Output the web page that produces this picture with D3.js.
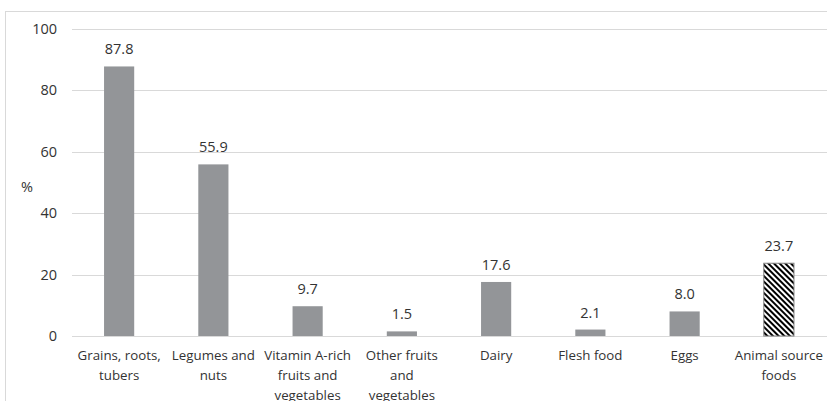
<!DOCTYPE html>
<html><head><meta charset="utf-8">
<script src="https://cdn.jsdelivr.net/npm/d3@7"></script>
<style>body{margin:0;background:#fff;} svg{display:block;}</style>
</head><body>
<svg id="c" width="827" height="401"></svg>
<script>
const categories = [["Grains, roots,","tubers"],["Legumes and","nuts"],["Vitamin A-rich","fruits and","vegetables"],["Other fruits","and","vegetables"],["Dairy"],["Flesh food"],["Eggs"],["Animal source","foods"]];
const values = [87.8, 55.9, 9.7, 1.5, 17.6, 2.1, 8.0, 23.7];
const hatched = [false,false,false,false,false,false,false,true];
const yTicks = [0,20,40,60,80,100];

const svg = d3.select("#c");
const font = "'Open Sans', sans-serif";
const txt = "#333333";
const defs = svg.append("defs");
const pat = defs.append("pattern").attr("id","hatch").attr("patternUnits","userSpaceOnUse")
  .attr("width",4).attr("height",4).attr("patternTransform","rotate(-45)");
pat.append("rect").attr("width",4).attr("height",4).attr("fill","#fff");
pat.append("rect").attr("width",2).attr("height",4).attr("fill","#000");

svg.append("rect").attr("x",5.5).attr("y",11.5).attr("width",830).attr("height",400)
  .attr("fill","none").attr("stroke","#d9d9d9");

const x = d3.scaleBand().domain(d3.range(categories.length)).range([72,826]).paddingInner(0.68).paddingOuter(0.34);
const y = d3.scaleLinear().domain([0,100]).range([336,29]);

svg.append("g").selectAll("line").data(yTicks).join("line")
  .attr("x1",72).attr("x2",827).attr("y1",d=>Math.round(y(d))+0.5).attr("y2",d=>Math.round(y(d))+0.5)
  .attr("stroke","#d9d9d9").attr("stroke-width",1);

svg.append("g").selectAll("text").data(yTicks).join("text")
  .attr("x",57).attr("y",d=>y(d)).attr("dy","0.35em").attr("text-anchor","end")
  .attr("font-family",font).attr("font-size",14.5).attr("fill",txt).text(d=>d);

svg.append("text").attr("x",27).attr("y",187).attr("dy","0.35em").attr("text-anchor","middle")
  .attr("font-family",font).attr("font-size",14.5).attr("fill",txt).text("%");

svg.append("g").selectAll("rect").data(values).join("rect")
  .attr("x",(d,i)=>x(i)).attr("width",x.bandwidth())
  .attr("y",d=>y(d)).attr("height",d=>y(0)-y(d))
  .attr("fill",(d,i)=>hatched[i]?"url(#hatch)":"#939598")
  .attr("stroke",(d,i)=>hatched[i]?"#7f7f7f":"none");

svg.append("g").selectAll("text").data(values).join("text")
  .attr("x",(d,i)=>x(i)+x.bandwidth()/2).attr("y",d=>y(d)-12)
  .attr("text-anchor","middle").attr("font-family",font).attr("font-size",14.5).attr("fill",txt)
  .text(d=>d.toFixed(1));

const lab = svg.append("g").selectAll("text").data(categories).join("text")
  .attr("text-anchor","middle").attr("font-family",font).attr("font-size",13.3).attr("fill",txt);
lab.each(function(lines,i){
  const t = d3.select(this);
  lines.forEach((l,j)=>t.append("tspan").attr("x",x(i)+x.bandwidth()/2).attr("y",360+j*20).text(l));
});
</script>
</body></html>
